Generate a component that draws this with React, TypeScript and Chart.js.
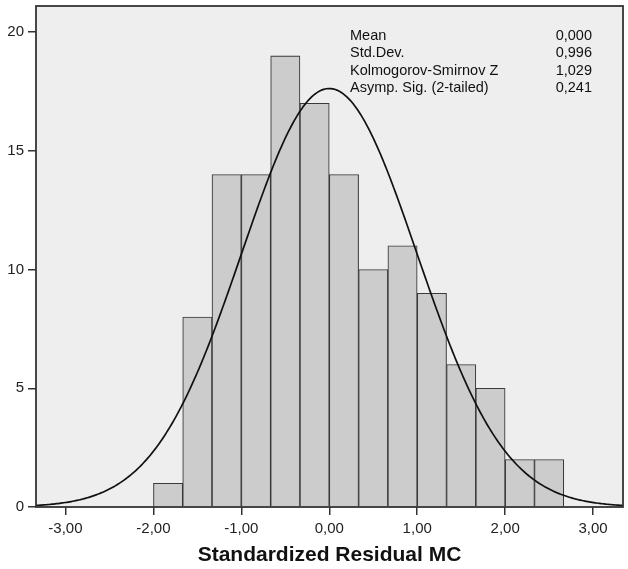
import React, { useEffect, useRef } from "react";
import { Chart, registerables } from "chart.js";

Chart.register(...registerables);

// ---- data ----
const BIN_CENTERS = [-1.833, -1.5, -1.167, -0.833, -0.5, -0.167, 0.167, 0.5, 0.833, 1.167, 1.5, 1.833, 2.167, 2.5];
const COUNTS = [1, 8, 14, 14, 19, 17, 14, 10, 11, 9, 6, 5, 2, 2];
const BIN_WIDTH = 1 / 3;
const X_TICKS = [-3, -2, -1, 0, 1, 2, 3];
const Y_TICKS = [0, 5, 10, 15, 20];
const STAT_LABELS = ["Mean", "Std.Dev.", "Kolmogorov-Smirnov Z", "Asymp. Sig. (2-tailed)"];
const STAT_VALUES = ["0,000", "0,996", "1,029", "0,241"];
const MEAN = 0.0;
const STD_DEV = 0.996;
const X_TITLE = "Standardized Residual MC";
const X_MIN = -3.335;
const X_MAX = 3.34;
const Y_MAX = 21.1;

const FONT = "'Liberation Sans', Arial, sans-serif";

function normalCurve() {
  const n = COUNTS.reduce((a, b) => a + b, 0);
  const pts: { x: number; y: number }[] = [];
  const steps = 400;
  for (let i = 0; i <= steps; i++) {
    const x = X_MIN + ((X_MAX - X_MIN) * i) / steps;
    const z = (x - MEAN) / STD_DEV;
    const y = (n * BIN_WIDTH * Math.exp(-0.5 * z * z)) / (STD_DEV * Math.sqrt(2 * Math.PI));
    pts.push({ x, y });
  }
  return pts;
}

const fmt = (v: number) => v.toFixed(2).replace(".", ",");

export default function App() {
  const ref = useRef<HTMLCanvasElement | null>(null);

  useEffect(() => {
    if (!ref.current) return;

    const decor = {
      id: "decor",
      beforeDraw(chart: any) {
        const { ctx, chartArea: a } = chart;
        ctx.save();
        ctx.fillStyle = "#eeeeee";
        ctx.fillRect(a.left, a.top, a.right - a.left, a.bottom - a.top);
        ctx.restore();
      },
      afterDatasetsDraw(chart: any) {
        const { ctx, chartArea: a } = chart;
        ctx.save();
        ctx.strokeStyle = "#333333";
        ctx.lineWidth = 1.8;
        ctx.strokeRect(a.left, a.top, a.right - a.left, a.bottom - a.top);
        ctx.restore();
      },
      afterDraw(chart: any) {
        const { ctx, chartArea: a } = chart;
        ctx.save();
        ctx.fillStyle = "#111111";
        ctx.font = `14.5px ${FONT}`;
        ctx.textBaseline = "alphabetic";
        STAT_LABELS.forEach((lab, i) => {
          const y = a.top + 33.5 + i * 17.5;
          ctx.textAlign = "left";
          ctx.fillText(lab, a.left + 314, y);
          ctx.textAlign = "right";
          ctx.fillText(STAT_VALUES[i], a.left + 556, y);
        });
        ctx.font = `bold 21px ${FONT}`;
        ctx.textAlign = "center";
        ctx.fillStyle = "#111111";
        ctx.fillText(X_TITLE, (a.left + a.right) / 2, a.bottom + 54);
        ctx.restore();
      },
    };

    const chart = new Chart(ref.current, {
      type: "bar",
      data: {
        datasets: [
          {
            type: "line",
            data: normalCurve(),
            borderColor: "#111111",
            borderWidth: 1.7,
            pointRadius: 0,
            fill: false,
            tension: 0,
            order: 0,
          } as any,
          {
            type: "bar",
            data: BIN_CENTERS.map((x, i) => ({ x, y: COUNTS[i] })),
            backgroundColor: "#cccccc",
            borderColor: "#3a3a3a",
            borderWidth: 1.1,
            barPercentage: 1,
            categoryPercentage: 1,
            order: 1,
          } as any,
        ],
      },
      options: {
        animation: false,
        responsive: false,
        devicePixelRatio: 1,
        layout: { padding: { top: 6, right: 5, left: 0, bottom: 0 } },
        plugins: { legend: { display: false }, tooltip: { enabled: false } },
        scales: {
          x: {
            type: "linear",
            min: X_MIN,
            max: X_MAX,
            offset: false,
            afterBuildTicks: (s: any) => {
              s.ticks = X_TICKS.map((v) => ({ value: v }));
            },
            afterFit: (s: any) => {
              s.height = 62;
              s.paddingLeft = 0;
              s.paddingRight = 0;
            },
            border: { display: false },
            grid: {
              display: true,
              offset: false,
              drawOnChartArea: false,
              drawTicks: true,
              tickLength: 8,
              color: "#333333",
              lineWidth: 1.5,
            },
            ticks: {
              color: "#222222",
              font: { family: FONT, size: 15 },
              padding: 5,
              maxRotation: 0,
              autoSkip: false,
              callback: (v: any) => fmt(Number(v)),
            },
          },
          y: {
            type: "linear",
            min: 0,
            max: Y_MAX,
            afterBuildTicks: (s: any) => {
              s.ticks = Y_TICKS.map((v) => ({ value: v }));
            },
            afterFit: (s: any) => {
              s.width = 36;
              s.paddingTop = 0;
              s.paddingBottom = 0;
            },
            border: { display: false },
            grid: {
              display: true,
              offset: false,
              drawOnChartArea: false,
              drawTicks: true,
              tickLength: 8,
              color: "#333333",
              lineWidth: 1.5,
            },
            ticks: {
              color: "#222222",
              font: { family: FONT, size: 15 },
              padding: 4,
              autoSkip: false,
              callback: (v: any) => String(v),
            },
          },
        },
      },
      plugins: [decor],
    } as any);

    return () => chart.destroy();
  }, []);

  return (
    <div style={{ position: "fixed", left: 0, top: 0, width: 628, height: 569, background: "#ffffff" }}>
      <canvas ref={ref} width={628} height={569} style={{ display: "block" }} />
    </div>
  );
}
